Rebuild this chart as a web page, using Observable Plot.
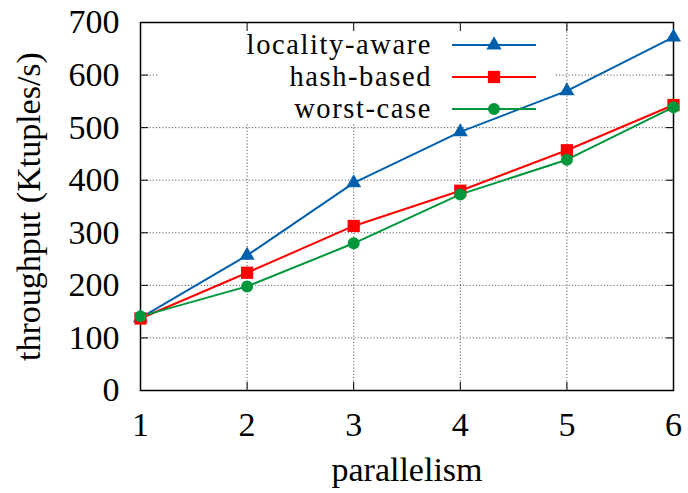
<!DOCTYPE html>
<html>
<head>
<meta charset="utf-8">
<script src="https://cdn.jsdelivr.net/npm/d3@7"></script>
<script src="https://cdn.jsdelivr.net/npm/@observablehq/plot@0.6"></script>
<style>
  html, body { margin: 0; padding: 0; background: #fff; }
  #chart svg { display: block; }
  #chart svg text { font-family: "Liberation Serif", serif !important; }
</style>
</head>
<body>
<div id="chart"></div>
<script>
const parallelism = [1, 2, 3, 4, 5, 6];
const localityAware = [138, 257, 395, 492, 570, 672];
const hashBased = [137, 224, 313, 380, 457, 543];
const worstCase = [141, 198, 280, 373, 439, 539];
const seriesNames = ["locality-aware", "hash-based", "worst-case"];
const seriesColors = ["#0060ad", "#ff0000", "#00963c"];
const seriesSymbols = ["triangle", "square", "circle"];
const yTicks = [0, 100, 200, 300, 400, 500, 600, 700];
const xTicks = [1, 2, 3, 4, 5, 6];

const FONT = "Liberation Serif, serif";
const FS = 34;
const KEY_FS = 28.5;

const allSeries = [localityAware, hashBased, worstCase];
const rows = [];
allSeries.forEach((vals, si) => {
  vals.forEach((v, i) => rows.push({series: seriesNames[si], x: parallelism[i], y: v}));
});

const symbolMap = {triangle: d3.symbolTriangle, square: d3.symbolSquare, circle: d3.symbolCircle};
const symbolSize = {triangle: 100, square: 150, circle: 113};

// opaque key box (drawn over the grid, under the data)
function keyBox(index, scales, values, dims) {
  const g = d3.create("svg:g");
  g.append("rect")
    .attr("x", dims.marginLeft + 19)
    .attr("y", dims.marginTop + 2)
    .attr("width", 396)
    .attr("height", 100)
    .attr("fill", "white");
  return g.node();
}

function keyEntries(index, scales, values, dims) {
  const g = d3.create("svg:g").attr("font-size", KEY_FS);
  const textRight = 432, lineX1 = 452, lineX2 = 536, markX = 494;
  seriesNames.forEach((name, i) => {
    const y = 45 + i * 32;
    g.append("text")
      .attr("x", textRight).attr("y", y)
      .attr("text-anchor", "end").attr("dy", "0.32em")
      .attr("letter-spacing", "1.6px")
      .attr("fill", "black").text(name);
    g.append("line")
      .attr("x1", lineX1).attr("x2", lineX2).attr("y1", y).attr("y2", y)
      .attr("stroke", seriesColors[i]).attr("stroke-width", 2);
    g.append("path")
      .attr("d", d3.symbol(symbolMap[seriesSymbols[i]], symbolSize[seriesSymbols[i]])())
      .attr("transform", `translate(${markX},${y})`)
      .attr("fill", seriesColors[i]);
  });
  return g.node();
}

const lineMarks = [];
const dotMarks = [];
seriesNames.forEach((name, si) => {
  const data = rows.filter(d => d.series === name);
  lineMarks.push(Plot.line(data, {x: "x", y: "y", stroke: seriesColors[si], strokeWidth: 2}));
  dotMarks.push(Plot.dot(data, {x: "x", y: "y", fill: seriesColors[si], stroke: "none",
    symbol: seriesSymbols[si], r: seriesSymbols[si] === "triangle" ? 5.6 : (seriesSymbols[si] === "square" ? 6.9 : 6)}));
});

const chart = Plot.plot({
  width: 688,
  height: 493,
  marginLeft: 140,
  marginRight: 15,
  marginTop: 22,
  marginBottom: 103,
  style: {fontFamily: FONT, fontSize: FS + "px", background: "white", color: "black"},
  x: {domain: [1, 6]},
  y: {domain: [0, 700]},
  marks: [
    Plot.gridX(xTicks, {stroke: "#111", strokeOpacity: 0.8, strokeDasharray: "1,2.2", strokeWidth: 1}),
    Plot.gridY(yTicks, {stroke: "#111", strokeOpacity: 0.8, strokeDasharray: "1,2.2", strokeWidth: 1}),
    keyBox,
    Plot.axisY(yTicks, {anchor: "left", tickSize: -8, tickPadding: 29, fontSize: FS, label: null, stroke: "black", strokeWidth: 1}),
    Plot.axisY(yTicks, {anchor: "right", tickSize: -8, fill: "none", label: null, stroke: "black", strokeWidth: 1}),
    Plot.axisX(xTicks, {anchor: "bottom", tickSize: -8, tickPadding: 29, fontSize: FS, label: null, stroke: "black", strokeWidth: 1}),
    Plot.axisX(xTicks, {anchor: "top", tickSize: -8, fill: "none", label: null, stroke: "black", strokeWidth: 1}),
    Plot.frame({stroke: "black", strokeWidth: 1.5}),
    ...lineMarks,
    ...dotMarks,
    keyEntries,
    Plot.text(["throughput (Ktuples/s)"], {frameAnchor: "left", dx: -111, rotate: -90, textAnchor: "middle", lineAnchor: "middle", fontSize: FS, fill: "black", text: d => d}),
    Plot.text(["parallelism"], {frameAnchor: "bottom", dy: 80, lineAnchor: "middle", fontSize: FS, fill: "black", text: d => d})
  ]
});

document.getElementById("chart").appendChild(chart);
</script>
</body>
</html>
